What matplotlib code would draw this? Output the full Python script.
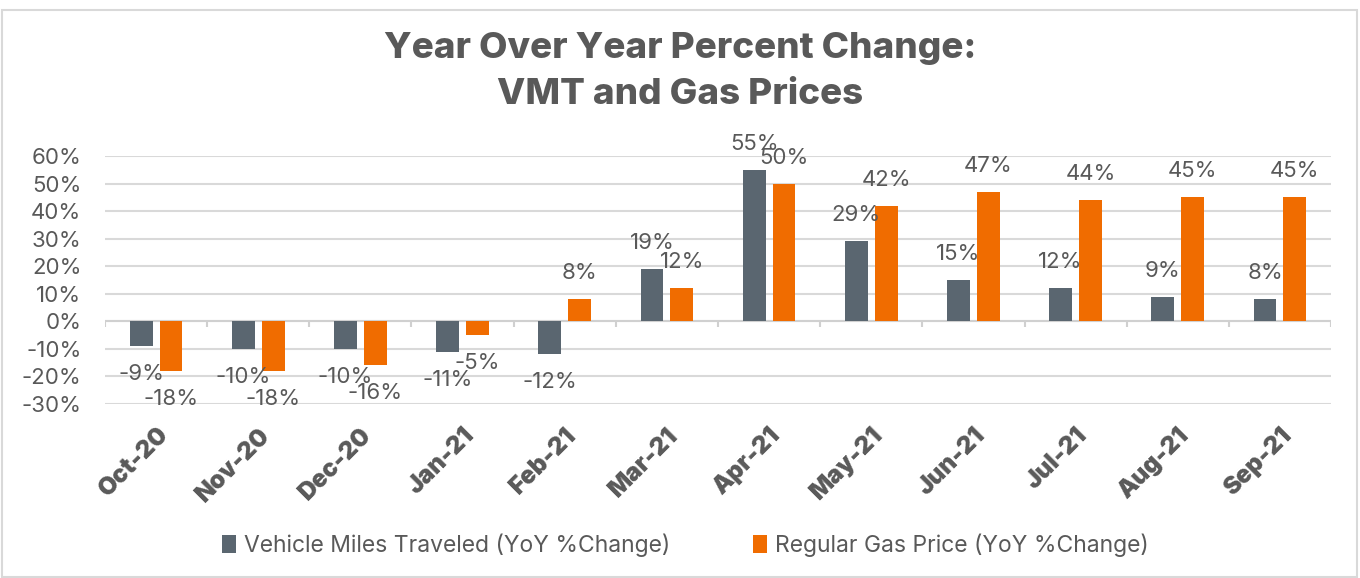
import matplotlib
matplotlib.use("Agg")
import matplotlib.pyplot as plt
from matplotlib.patches import Rectangle
import numpy as np

plt.rcParams["font.family"] = ["Inter", "DejaVu Sans"]

months = ["Oct-20", "Nov-20", "Dec-20", "Jan-21", "Feb-21", "Mar-21",
          "Apr-21", "May-21", "Jun-21", "Jul-21", "Aug-21", "Sep-21"]
vmt_change = [-9, -10, -10, -11, -12, 19, 55, 29, 15, 12, 9, 8]
gas_change = [-18, -18, -16, -5, 8, 12, 50, 42, 47, 44, 45, 45]
yticks = [-30, -20, -10, 0, 10, 20, 30, 40, 50, 60]

GREY = "#5a6670"
ORANGE = "#f06c00"
TEXT = "#595959"
GRID = "#d9d9d9"

fig = plt.figure(figsize=(13.6, 5.78), dpi=100)
ax = fig.add_axes([105 / 1360, 1 - 404 / 578, (1331 - 105) / 1360, (404 - 156) / 578])

# chart frame
fig.patches.append(Rectangle((2 / 1360, 0.002), 1355 / 1360, 1 - 10 / 578 - 0.002,
                             transform=fig.transFigure, fill=False,
                             edgecolor="#d9d9d9", lw=1.5))

x = np.arange(len(months))
w = 0.225
off = 0.146
b1 = ax.bar(x - off, vmt_change, w, color=GREY, label="Vehicle Miles Traveled (YoY %Change)", zorder=3)
b2 = ax.bar(x + off, gas_change, w, color=ORANGE, label="Regular Gas Price (YoY %Change)", zorder=3)

for bars, vals in ((b1, vmt_change), (b2, gas_change)):
    for rect, v in zip(bars, vals):
        dy = 26 if v >= 0 else -28
        ax.annotate(f"{v:.0f}%", (rect.get_x() + rect.get_width() / 2, v),
                    xytext=(0, dy), textcoords="offset pixels",
                    ha="center", va="center", fontsize=16, color=TEXT, zorder=4)

ax.set_xlim(-0.5, len(months) - 0.5)
ax.set_ylim(-30, 60)
ax.set_yticks(yticks)
ax.set_yticklabels([f"{t}%" for t in yticks])
ax.grid(axis="y", color=GRID, lw=1.5, zorder=0)
for s in ax.spines.values():
    s.set_visible(False)
ax.tick_params(axis="y", length=0, labelsize=16, labelcolor=TEXT, pad=17)

# category axis at 0% with boundary ticks
ax.axhline(0, color="#d0d0d0", lw=1.5, zorder=2)
ax.vlines(np.arange(len(months) + 1) - 0.5, -2.2, 0, color="#d0d0d0", lw=1.5, zorder=2)

ax.set_xticks(x)
ax.set_xticklabels(months, rotation=45, ha="right", rotation_mode="anchor",
                   fontsize=17.5, fontweight=900, color=TEXT)
ax.tick_params(axis="x", length=0, pad=14)

fig.suptitle("Year Over Year Percent Change:\nVMT and Gas Prices", x=0.5, y=0.945,
             fontsize=26.5, fontweight=800, color=TEXT, linespacing=1.5)

leg = fig.legend(loc="center", bbox_to_anchor=(0.504, 1 - 545 / 578), ncol=2,
                 frameon=False, fontsize=16.5, handlelength=0.6, handleheight=0.8,
                 handletextpad=0.35, columnspacing=3.6)
for t in leg.get_texts():
    t.set_color(TEXT)

fig.savefig("out.png", dpi=100)
